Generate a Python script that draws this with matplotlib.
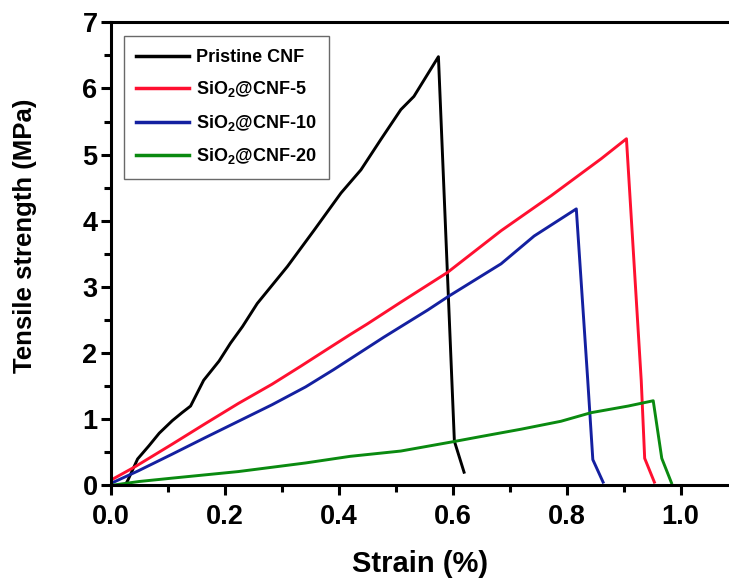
import numpy as np
import matplotlib.pyplot as plt
from matplotlib.ticker import MultipleLocator

plt.rcParams['font.family'] = ['Liberation Sans', 'DejaVu Sans']
plt.rcParams['font.weight'] = 'bold'
plt.rcParams['mathtext.fontset'] = 'custom'
plt.rcParams['mathtext.bf'] = 'Liberation Sans:bold'
plt.rcParams['mathtext.rm'] = 'Liberation Sans:bold'
plt.rcParams['mathtext.default'] = 'bf'

# strain (%) / tensile strength (MPa)
cnf_x = [0.025, 0.03, 0.047, 0.067, 0.085, 0.108, 0.125, 0.14, 0.163, 0.19, 0.21, 0.231,
         0.257, 0.31, 0.357, 0.404, 0.439, 0.474, 0.509, 0.532, 0.575, 0.603, 0.62]
cnf_y = [0.0, 0.08, 0.40, 0.60, 0.79, 0.98, 1.10, 1.20, 1.59, 1.88, 2.15, 2.40,
         2.75, 3.31, 3.86, 4.42, 4.77, 5.23, 5.68, 5.88, 6.48, 0.67, 0.2]

cnf5_x = [0.0, 0.042, 0.107, 0.165, 0.224, 0.283, 0.333, 0.38, 0.42, 0.45, 0.509, 0.591,
          0.685, 0.773, 0.861, 0.905, 0.931, 0.937, 0.954]
cnf5_y = [0.08, 0.28, 0.62, 0.93, 1.24, 1.53, 1.80, 2.06, 2.28, 2.44, 2.77, 3.22,
          3.85, 4.38, 4.94, 5.24, 1.58, 0.41, 0.05]

cnf10_x = [0.0, 0.048, 0.107, 0.165, 0.224, 0.283, 0.342, 0.391, 0.479, 0.509, 0.556, 0.593,
           0.685, 0.743, 0.817, 0.837, 0.846, 0.864]
cnf10_y = [0.03, 0.22, 0.47, 0.72, 0.97, 1.22, 1.49, 1.75, 2.24, 2.40, 2.65, 2.86,
           3.35, 3.77, 4.18, 1.6, 0.39, 0.05]

cnf20_x = [0.0, 0.05, 0.107, 0.224, 0.342, 0.42, 0.509, 0.60, 0.65, 0.72, 0.79, 0.843,
           0.908, 0.952, 0.967, 0.984]
cnf20_y = [0.0, 0.06, 0.11, 0.21, 0.34, 0.44, 0.52, 0.66, 0.74, 0.85, 0.97, 1.10,
           1.20, 1.28, 0.41, 0.04]

labels = ['Pristine CNF', 'SiO$_2$@CNF-5', 'SiO$_2$@CNF-10', 'SiO$_2$@CNF-20']
colors = ['#000000', '#ff1030', '#1420a0', '#0a8a10']

fig = plt.figure(figsize=(7.29, 5.87), dpi=100)
ax = fig.add_axes([0.152, 0.173, 0.848, 0.789])

for xs, ys, lab, c in zip([cnf_x, cnf5_x, cnf10_x, cnf20_x],
                          [cnf_y, cnf5_y, cnf10_y, cnf20_y], labels, colors):
    ax.plot(xs, ys, color=c, lw=2.1, label=lab)

ax.set_xlim(0, 1.085)
ax.set_ylim(0, 7)
ax.xaxis.set_major_locator(MultipleLocator(0.2))
ax.xaxis.set_minor_locator(MultipleLocator(0.1))
ax.yaxis.set_major_locator(MultipleLocator(1))
ax.yaxis.set_minor_locator(MultipleLocator(0.5))
ax.xaxis.set_major_formatter(plt.FormatStrFormatter('%.1f'))

for s in ['left', 'bottom', 'top']:
    ax.spines[s].set_linewidth(2.2)
ax.spines['right'].set_visible(False)

ax.tick_params(which='major', direction='out', length=7.5, width=2.2, labelsize=19.5)
ax.tick_params(which='minor', direction='out', length=5, width=2.2)
ax.tick_params(axis='x', which='major', pad=6)
ax.tick_params(axis='y', which='major', pad=2)

ax.set_xlabel('Strain (%)', fontsize=21, fontweight='bold', labelpad=14)
ax.set_ylabel('Tensile strength (MPa)', fontsize=18.5, fontweight='bold')
ax.yaxis.set_label_coords(-0.119, 0.54)

leg = ax.legend(loc='upper left', bbox_to_anchor=(0.021, 0.97), borderaxespad=0,
                fontsize=13, handlelength=2.9, labelspacing=0.75, handletextpad=0.4,
                fancybox=False, edgecolor='#444444', borderpad=0.7)
leg.get_frame().set_linewidth(1.0)
for line in leg.get_lines():
    line.set_linewidth(2.5)

plt.savefig('out.png', dpi=100)
